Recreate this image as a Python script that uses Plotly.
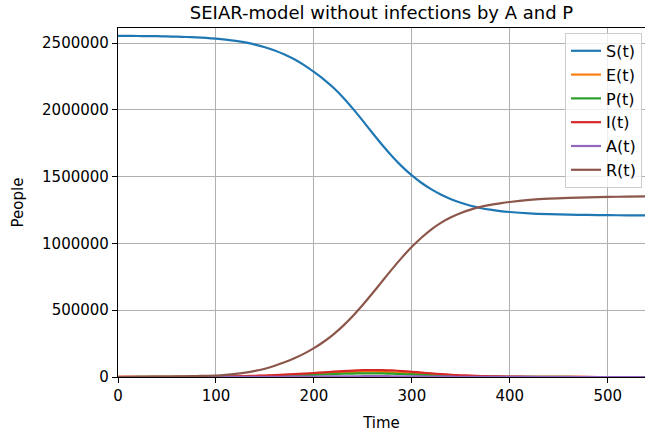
import plotly.graph_objects as go

# Time points (days)
t = [0, 10, 20, 30, 40, 50, 60, 70, 80, 90, 100, 110, 120, 130, 140, 150, 160, 170, 180, 190,
     200, 210, 220, 230, 240, 250, 260, 270, 280, 290, 300, 310, 320, 330, 340, 350, 360, 370,
     380, 390, 400, 420, 440, 460, 480, 500, 520, 540]

S = [2555000, 2554700, 2554200, 2553500, 2552500, 2551000, 2549000, 2546500, 2543500, 2539500,
     2534000, 2527000, 2518000, 2506000, 2490000, 2470000, 2446000, 2416000, 2380000, 2336000,
     2285000, 2230000, 2166000, 2092000, 2008000, 1918000, 1826000, 1736000, 1652000, 1576000,
     1510000, 1453000, 1405000, 1365000, 1332000, 1305000, 1283000, 1266000, 1253000, 1243000,
     1236000, 1226000, 1220000, 1216000, 1214000, 1212000, 1211000, 1210000]

E = [500, 420, 400, 480, 600, 780, 1000, 1280, 1600, 2050, 2600, 3400, 4300, 5500, 7000, 8900,
     11000, 13800, 17000, 20700, 24500, 28300, 32000, 35300, 38000, 39500, 39500, 37800, 35000,
     30800, 26000, 21300, 17000, 13200, 10000, 7600, 5800, 4400, 3200, 2350, 1700, 900, 500, 270,
     140, 80, 40, 20]

P = [100, 180, 250, 320, 400, 520, 650, 840, 1050, 1350, 1700, 2200, 2800, 3600, 4600, 5850,
     7300, 9200, 11300, 13800, 16500, 19300, 22000, 24300, 26000, 27200, 27500, 26700, 25000,
     22300, 19000, 15700, 12500, 9800, 7500, 5700, 4300, 3250, 2400, 1800, 1300, 700, 380, 200,
     110, 60, 30, 15]

I = [200, 300, 400, 550, 700, 950, 1200, 1550, 2000, 2550, 3200, 4200, 5500, 7100, 9000, 11300,
     14000, 17300, 21000, 25300, 30000, 35000, 40000, 44500, 48000, 50800, 52000, 51500, 49000,
     44500, 39000, 33000, 27000, 21700, 17000, 13200, 10000, 7500, 5500, 4100, 3000, 1600, 900,
     500, 250, 150, 80, 40]

A = [0, 25, 50, 75, 100, 125, 150, 200, 250, 320, 400, 520, 650, 840, 1050, 1330, 1650, 2050,
     2500, 3030, 3600, 4200, 4800, 5300, 5700, 5950, 6100, 6050, 5800, 5350, 4800, 4150, 3500,
     2880, 2300, 1820, 1400, 1080, 800, 610, 450, 250, 140, 80, 45, 25, 14, 8]

R = [0, 500, 1000, 1700, 2500, 3400, 4500, 5800, 7300, 9000, 11000, 16000, 23000, 33000, 46000,
     62000, 84000, 110000, 140000, 175000, 216000, 264000, 320000, 385000, 459000, 541000,
     629000, 720000, 810000, 896000, 975000, 1045000, 1106000, 1156000, 1196000, 1228000,
     1254000, 1274000, 1289000, 1301000, 1311000, 1326000, 1336000, 1342000, 1346000, 1349000,
     1351000, 1353000]

names = ["S(t)", "E(t)", "P(t)", "I(t)", "A(t)", "R(t)"]
series = [S, E, P, I, A, R]
colors = ["#1f77b4", "#ff7f0e", "#2ca02c", "#d62728", "#9467bd", "#8c564b"]

yticks = [0, 500000, 1000000, 1500000, 2000000, 2500000]
xticks = [0, 100, 200, 300, 400, 500]

fig = go.Figure()
for name, ys, c in zip(names, series, colors):
    fig.add_trace(go.Scatter(x=t, y=ys, name=name, mode="lines",
                             line=dict(color=c, width=2.2, shape="spline", smoothing=0.8)))

W, H = 645, 432
font = "DejaVu Sans, Arial, sans-serif"
fig.update_layout(
    width=W, height=H,
    margin=dict(l=118, r=0, t=28, b=55),
    paper_bgcolor="white", plot_bgcolor="white",
    font=dict(family=font, size=15, color="#000000"),
    title=dict(text="SEIAR-model without infections by A and P", x=0.5, xref="paper",
               y=1 - 13 / H, yref="container", yanchor="middle",
               font=dict(family=font, size=18, color="#000000")),
    showlegend=True,
    legend=dict(x=1 - 3 / 527, xanchor="right", y=0.986, yanchor="top",
                bgcolor="rgba(255,255,255,0.8)", bordercolor="#cccccc", borderwidth=1,
                font=dict(family=font, size=16, color="#000000"),
                itemwidth=30, tracegroupgap=0),
)
fig.update_xaxes(range=[0, 538], tickvals=xticks, ticks="outside", ticklen=5, tickwidth=1.2,
                 tickcolor="black", showline=True, linecolor="black", linewidth=1.2, mirror=True,
                 showgrid=True, gridcolor="#b0b0b0", gridwidth=1.2, zeroline=False,
                 automargin=False,
                 title=dict(text="Time", standoff=13, font=dict(size=15)))
fig.update_yaxes(range=[0, 2614000], tickvals=yticks, tickformat="d", ticks="outside",
                 ticklen=5, tickwidth=1.2, tickcolor="black", showline=True, linecolor="black",
                 linewidth=1.2, showgrid=True, gridcolor="#b0b0b0", gridwidth=1.2,
                 zeroline=False, automargin=False,
                 title=dict(text="People", standoff=14, font=dict(size=15)))

fig.write_html("out.html", config={"displayModeBar": False},
               post_script="document.body.style.margin='0';")
